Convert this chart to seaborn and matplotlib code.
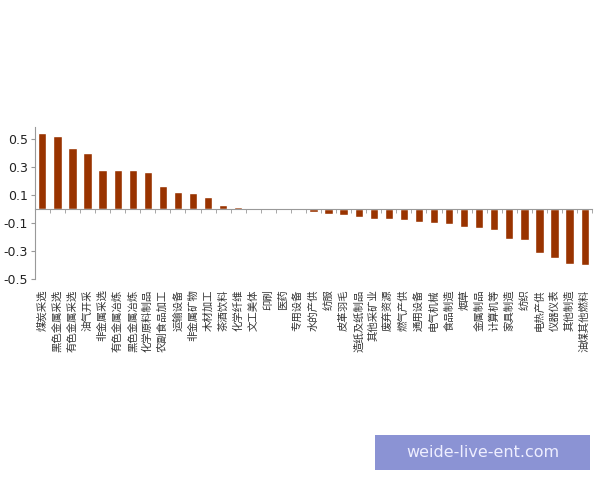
import matplotlib
matplotlib.use('Agg')
import matplotlib.pyplot as plt
from matplotlib.patches import Rectangle
import seaborn as sns
import pandas as pd

industries = ['煤炭采选', '黑色金属采选', '有色金属采选', '油气开采', '非金属采选',
              '有色金属冶炼', '黑色金属冶炼', '化学原料制品', '农副食品加工', '运输设备',
              '非金属矿物', '木材加工', '茶酒饮料', '化学纤维', '文工美体', '印刷', '医药',
              '专用设备', '水的产供', '纺服', '皮革羽毛', '造纸及纸制品', '其他采矿业',
              '废弃资源', '燃气产供', '通用设备', '电气机械', '食品制造', '烟草', '金属制品',
              '计算机等', '家具制造', '纺织', '电热产供', '仪器仪表', '其他制造', '油煤其他燃料']
values = [0.543, 0.521, 0.436, 0.400, 0.281, 0.281, 0.279, 0.267, 0.162, 0.124,
          0.114, 0.086, 0.029, 0.012, 0.002, 0.001, -0.003,
          -0.008, -0.019, -0.036, -0.040, -0.060, -0.071,
          -0.074, -0.076, -0.095, -0.100, -0.105, -0.126, -0.133,
          -0.152, -0.212, -0.224, -0.317, -0.348, -0.390, -0.402]
yticks = [0.5, 0.3, 0.1, -0.1, -0.3, -0.5]

df = pd.DataFrame({'industry': industries, 'value': values})

sns.set_style('white')
plt.rcParams['font.family'] = ['Noto Sans CJK SC', 'DejaVu Sans']
plt.rcParams['axes.unicode_minus'] = False

fig = plt.figure(figsize=(6, 4.8), dpi=100)
ax = fig.add_axes([0.058, 0.419, 0.929, 0.316])

sns.barplot(data=df, x='industry', y='value', color='#993300', width=0.55,
            saturation=1, ax=ax)

n = len(industries)
ax.set_xlim(-0.5, n - 0.5)
ax.set_ylim(-0.5, 0.586)
ax.set_yticks(yticks)
ax.set_yticklabels([f'{v:.1f}' for v in yticks], fontsize=9, color='#222222',
                   family='DejaVu Sans')
ax.set_xlabel('')
ax.set_ylabel('')

for s in ['top', 'right']:
    ax.spines[s].set_visible(False)
ax.spines['left'].set_color('#999999')
ax.spines['bottom'].set_color('#999999')
ax.spines['bottom'].set_position(('data', 0))
ax.tick_params(axis='y', length=3, color='#999999', direction='out', pad=2, left=True)

ax.set_xticks(range(n))
ax.set_xticklabels(industries, rotation=90, fontsize=7.5, color='#333333')
ax.tick_params(axis='x', length=0, pad=58)
ax.set_xticks([i + 0.5 for i in range(-1, n)], minor=True)
ax.tick_params(axis='x', which='minor', length=3, color='#999999', direction='out', bottom=True)

# watermark box
fig.patches.append(Rectangle((0.625, 0.021), 0.358, 0.073, transform=fig.transFigure,
                             facecolor='#8b93d4', edgecolor='none'))
fig.text(0.804, 0.057, 'weide-live-ent.com', ha='center', va='center',
         fontsize=11.5, color='#eeeeff', family='DejaVu Sans')

fig.savefig('out.png', dpi=100)
